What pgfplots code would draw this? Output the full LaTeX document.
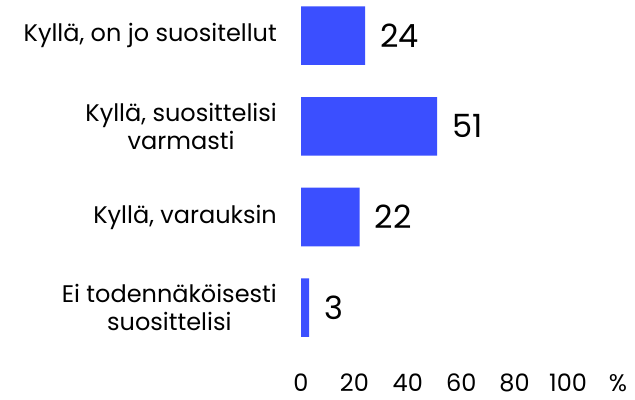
\documentclass[border=0pt]{standalone}
\usepackage{pgfplots}
\pgfplotsset{compat=1.18}
\usepackage{fontspec}
\setmainfont{Poppins}
\definecolor{barblue}{HTML}{3B4FFF}
\begin{document}
\begin{tikzpicture}
\path[use as bounding box] (0,0) rectangle (635bp,400bp);
\begin{axis}[
  at={(301bp,47bp)}, anchor=south west,
  scale only axis,
  width=320.4bp, height=362.7bp,
  xbar, bar width=58.6bp,
  xmin=0, xmax=120,
  ymin=-0.5, ymax=3.5,
  y dir=reverse,
  axis line style={draw=none},
  axis x line*=bottom, axis y line*=left,
  clip=false,
  xtick={0,20,40,60,80,100,118.7},
  xticklabels={0,20,40,60,80,100,\%},
  ytick={0,1,2,3},
  yticklabels={{Kyllä, on jo suositellut},{Kyllä, suosittelisi\\varmasti},{Kyllä, varauksin},{Ei todennäköisesti\\suosittelisi}},
  major tick length=0pt,
  tick style={draw=none},
  /pgf/number format/assume math mode=true,
  xticklabel style={font=\fontsize{24bp}{28bp}\selectfont, anchor=base, inner sep=0pt, yshift=-38bp, text=black},
  yticklabel style={font=\fontsize{24bp}{28bp}\selectfont, anchor=east, align=center, inner sep=0pt, xshift=-24bp, text=black},
  nodes near coords,
  every node near coord/.append style={font=\fontsize{32bp}{32bp}\selectfont, anchor=west, inner sep=0pt, xshift=15bp, text=black},
]
\addplot[fill=barblue, draw=none] coordinates {(24,0) (51,1) (22,2) (3,3)};
\end{axis}
\end{tikzpicture}
\end{document}
